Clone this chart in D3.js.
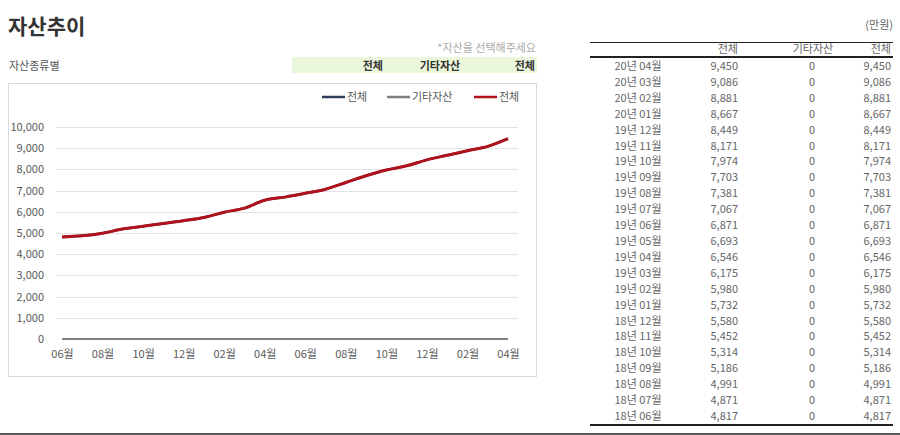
<!DOCTYPE html>
<html><head><meta charset="utf-8">
<script src="https://cdn.jsdelivr.net/npm/d3@7"></script>
<style>
html,body{margin:0;padding:0;background:#fff;}
svg{display:block;font-family:"Noto Sans CJK KR","Noto Sans",sans-serif;}
</style></head><body>
<svg id="c" width="900" height="435"></svg>
<script>
const months = ["18년 06월","18년 07월","18년 08월","18년 09월","18년 10월","18년 11월","18년 12월","19년 01월","19년 02월","19년 03월","19년 04월","19년 05월","19년 06월","19년 07월","19년 08월","19년 09월","19년 10월","19년 11월","19년 12월","20년 01월","20년 02월","20년 03월","20년 04월"];
const totalValues = [4817,4871,4991,5186,5314,5452,5580,5732,5980,6175,6546,6693,6871,7067,7381,7703,7974,8171,8449,8667,8881,9086,9450];
const otherValues = [0,0,0,0,0,0,0,0,0,0,0,0,0,0,0,0,0,0,0,0,0,0,0];
const seriesNames = ["전체","기타자산","전체"];
const seriesColors = ["#2e3f5c","#7f7f7f","#b0121b"];
const yTicks = [0,1000,2000,3000,4000,5000,6000,7000,8000,9000,10000];

const svg = d3.select("#c");
const fmt = d3.format(",");

// Title & header
svg.append("text").attr("x",8).attr("y",34).attr("font-size",21).attr("font-weight","bold").attr("fill","#333").text("자산추이");
svg.append("text").attr("x",536).attr("y",52).attr("text-anchor","end").attr("font-size",11).attr("fill","#aaa").text("*자산을 선택해주세요");
svg.append("text").attr("x",9).attr("y",70).attr("font-size",11).attr("fill","#555").text("자산종류별");
svg.append("rect").attr("x",292).attr("y",57).attr("width",245).attr("height",16).attr("fill","#ebf7da");
svg.append("text").attr("x",383).attr("y",70).attr("text-anchor","end").attr("font-size",11).attr("font-weight","bold").attr("fill","#333").text(seriesNames[0]);
svg.append("text").attr("x",440).attr("y",70).attr("text-anchor","middle").attr("font-size",11).attr("font-weight","bold").attr("fill","#333").text(seriesNames[1]);
svg.append("text").attr("x",535).attr("y",70).attr("text-anchor","end").attr("font-size",11).attr("font-weight","bold").attr("fill","#333").text(seriesNames[2]);

// Chart box
svg.append("rect").attr("x",8.5).attr("y",83.5).attr("width",528).attr("height",293).attr("fill","#fff").attr("stroke","#d9d9d9");

const x = d3.scalePoint().domain(months).range([62,508]);
const y = d3.scaleLinear().domain([0,10000]).range([339,127]);

// gridlines
svg.append("g").selectAll("line").data(yTicks.filter(d=>d>0)).join("line")
  .attr("x1",56).attr("x2",518).attr("y1",d=>Math.round(y(d))+0.5).attr("y2",d=>Math.round(y(d))+0.5)
  .attr("stroke","#e3e3e3");

// y axis
const yAxis = svg.append("g").attr("transform","translate(50,0)")
  .call(d3.axisLeft(y).tickValues(yTicks).tickFormat(fmt).tickSize(0).tickPadding(6));
yAxis.select(".domain").remove();
yAxis.selectAll("text").attr("font-size",11).attr("fill","#595959").attr("font-family","'Noto Sans CJK KR',sans-serif");

// x axis
const xAxis = svg.append("g").attr("transform","translate(0,347)")
  .call(d3.axisBottom(x).tickValues(months.filter((d,i)=>i%2===0)).tickFormat(d=>d.slice(4)).tickSize(0).tickPadding(3));
xAxis.select(".domain").remove();
xAxis.selectAll("text").attr("font-size",11).attr("fill","#595959").attr("font-family","'Noto Sans CJK KR',sans-serif");

const line = d3.line().x((d,i)=>x(months[i])).y(d=>y(d)).curve(d3.curveMonotoneX);
svg.append("path").datum(totalValues).attr("d",line).attr("fill","none").attr("stroke",seriesColors[0]).attr("stroke-width",2.5);
svg.append("path").datum(otherValues).attr("d",line).attr("fill","none").attr("stroke",seriesColors[1]).attr("stroke-width",2);
svg.append("path").datum(totalValues).attr("d",line).attr("fill","none").attr("stroke",seriesColors[2]).attr("stroke-width",3);

// legend
const legX = [322,387,474];
seriesNames.forEach((n,i)=>{
  svg.append("line").attr("x1",legX[i]).attr("x2",legX[i]+23).attr("y1",97).attr("y2",97).attr("stroke",seriesColors[i]).attr("stroke-width",2.5);
  svg.append("text").attr("x",legX[i]+25).attr("y",101).attr("font-size",11).attr("fill","#595959").text(n);
});

// table
svg.append("text").attr("x",893).attr("y",29).attr("text-anchor","end").attr("font-size",11).attr("fill","#666").text("(만원)");
svg.append("line").attr("x1",590).attr("x2",893).attr("y1",42.5).attr("y2",42.5).attr("stroke","#222").attr("stroke-width",1);
svg.append("text").attr("x",738).attr("y",53).attr("text-anchor","end").attr("font-size",11).attr("fill","#666").text(seriesNames[0]);
svg.append("text").attr("x",813).attr("y",53).attr("text-anchor","middle").attr("font-size",11).attr("fill","#666").text(seriesNames[1]);
svg.append("text").attr("x",891).attr("y",53).attr("text-anchor","end").attr("font-size",11).attr("fill","#666").text(seriesNames[2]);
svg.append("line").attr("x1",590).attr("x2",893).attr("y1",57).attr("y2",57).attr("stroke","#222").attr("stroke-width",2);

const rows = months.map((m,i)=>({m, t: totalValues[i], o: otherValues[i]})).reverse();
const ry = d3.scaleLinear().domain([0,rows.length-1]).range([70,420]);
const rg = svg.append("g").selectAll("g").data(rows).join("g").attr("transform",(d,i)=>`translate(0,${ry(i)})`);
rg.append("text").attr("x",638).attr("text-anchor","middle").attr("font-size",11).attr("fill","#666").text(d=>d.m);
rg.append("text").attr("x",738).attr("text-anchor","end").attr("font-size",11).attr("fill","#666").text(d=>fmt(d.t));
rg.append("text").attr("x",812).attr("text-anchor","middle").attr("font-size",11).attr("fill","#666").text(d=>fmt(d.o));
rg.append("text").attr("x",891).attr("text-anchor","end").attr("font-size",11).attr("fill","#666").text(d=>fmt(d.t+d.o));

svg.append("line").attr("x1",590).attr("x2",893).attr("y1",425).attr("y2",425).attr("stroke","#222").attr("stroke-width",2);
svg.append("line").attr("x1",0).attr("x2",900).attr("y1",434).attr("y2",434).attr("stroke","#222").attr("stroke-width",1.5);
</script>
</body></html>
